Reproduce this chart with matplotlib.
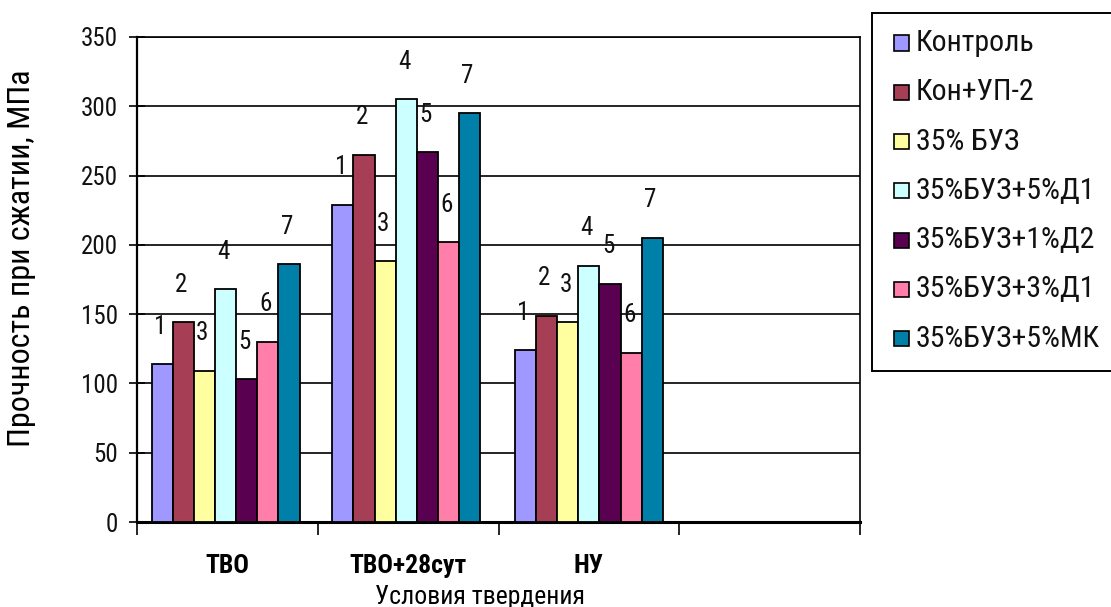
import matplotlib
matplotlib.use("Agg")
import matplotlib.pyplot as plt
from matplotlib.patches import Rectangle
from matplotlib import font_manager

# Data
categories = ["ТВО", "ТВО+28сут", "НУ"]
series_names = ["Контроль", "Кон+УП-2", "35% БУЗ", "35%БУЗ+5%Д1",
                "35%БУЗ+1%Д2", "35%БУЗ+3%Д1", "35%БУЗ+5%МК"]
values = [
    [114, 229, 124],   # Контроль
    [144, 265, 149],   # Кон+УП-2
    [109, 188, 144],   # 35% БУЗ
    [168, 305, 185],   # 35%БУЗ+5%Д1
    [103, 267, 172],   # 35%БУЗ+1%Д2
    [130, 202, 122],   # 35%БУЗ+3%Д1
    [186, 295, 205],   # 35%БУЗ+5%МК
]
bar_labels = ["1", "2", "3", "4", "5", "6", "7"]
colors = ["#9F99FF", "#A63F55", "#FFFFA0", "#CCFFFF", "#5A0050", "#FF7FAA", "#007FA8"]
y_ticks = [0, 50, 100, 150, 200, 250, 300, 350]

# Pick a narrow sans face, falling back to DejaVu Sans
installed = {f.name for f in font_manager.fontManager.ttflist}
candidates = ["Liberation Sans Narrow", "Arial Narrow", "Roboto Condensed",
              "PT Sans Narrow", "Archivo Narrow", "Asap Condensed"]
narrow = next((c for c in candidates if c in installed), "DejaVu Sans")
FAM = [narrow, "DejaVu Sans"]
plt.rcParams["font.family"] = FAM

W, H = 1111, 607
fig = plt.figure(figsize=(W / 100, H / 100), dpi=100)
fig.patch.set_facecolor("white")


def px(x, y):
    """Pixel position (from top-left) to figure fraction."""
    return x / W, 1 - y / H


left, right, top, bottom = 137, 860, 37, 522
ax = fig.add_axes([left / W, (H - bottom) / H, (right - left) / W, (bottom - top) / H])

n_series = len(series_names)
bar_w = 0.117
centers = [0.49, 1.49, 2.5]
for i, (name, vals, col, lab) in enumerate(zip(series_names, values, colors, bar_labels)):
    xs = [c + (i - (n_series - 1) / 2) * bar_w for c in centers]
    ax.bar(xs, vals, width=bar_w, color=col, edgecolor="black", linewidth=1.3, zorder=3)
    for x, v in zip(xs, vals):
        ax.annotate(lab, (x, v), xytext=(-1.5, 27), textcoords="offset points",
                    ha="center", va="center", fontsize=18, color="#111111", zorder=4)

ax.set_xlim(0, 4)
ax.set_ylim(0, 350)
ax.set_yticks(y_ticks)
ax.set_yticklabels([str(t) for t in y_ticks], fontsize=18, color="#111111")
ax.yaxis.grid(True, color="black", linewidth=1.2, zorder=0)
ax.set_axisbelow(True)

ax.set_xticks([0, 1, 2, 3, 4])
ax.set_xticklabels([])
ax.tick_params(axis="x", direction="out", length=9, width=1.2, color="black")
ax.tick_params(axis="y", direction="inout", length=11, width=1.2, color="black", pad=8)

ax.set_xticks([0.5, 1.5, 2.5], minor=True)
ax.set_xticklabels(categories, minor=True, fontsize=18.5, fontweight=900)
ax.tick_params(axis="x", which="minor", length=0, pad=23)

ax.spines["left"].set_linewidth(1.6)
ax.spines["bottom"].set_linewidth(2.2)
ax.spines["right"].set_linewidth(1.2)
ax.spines["top"].set_linewidth(1.2)

fig.text(*px(22, 258), "Прочность при сжатии, МПа", rotation=90, ha="center", va="center",
         fontsize=23)
fig.text(*px(480, 597), "Условия твердения", ha="center", va="center", fontsize=18.5)

# Legend panel, drawn in figure pixels
lx0, ly0, lx1, ly1 = 872, 13, 1125, 371
fig.patches.append(Rectangle(px(lx0, ly1), (lx1 - lx0) / W, (ly1 - ly0) / H,
                             transform=fig.transFigure, facecolor="white",
                             edgecolor="black", linewidth=1.4, zorder=5))
row0, row_step = 43, 49.3
for i, (name, col) in enumerate(zip(series_names, colors)):
    yc = row0 + i * row_step
    sq = 15
    fig.patches.append(Rectangle(px(894, yc + sq / 2), sq / W, sq / H,
                                 transform=fig.transFigure, facecolor=col,
                                 edgecolor="black", linewidth=1.2, zorder=6))
    fig.text(*px(916, yc), name, ha="left", va="center", fontsize=21.5, zorder=7,
             color="#111111")

fig.savefig("out.png", dpi=100, facecolor="white")
